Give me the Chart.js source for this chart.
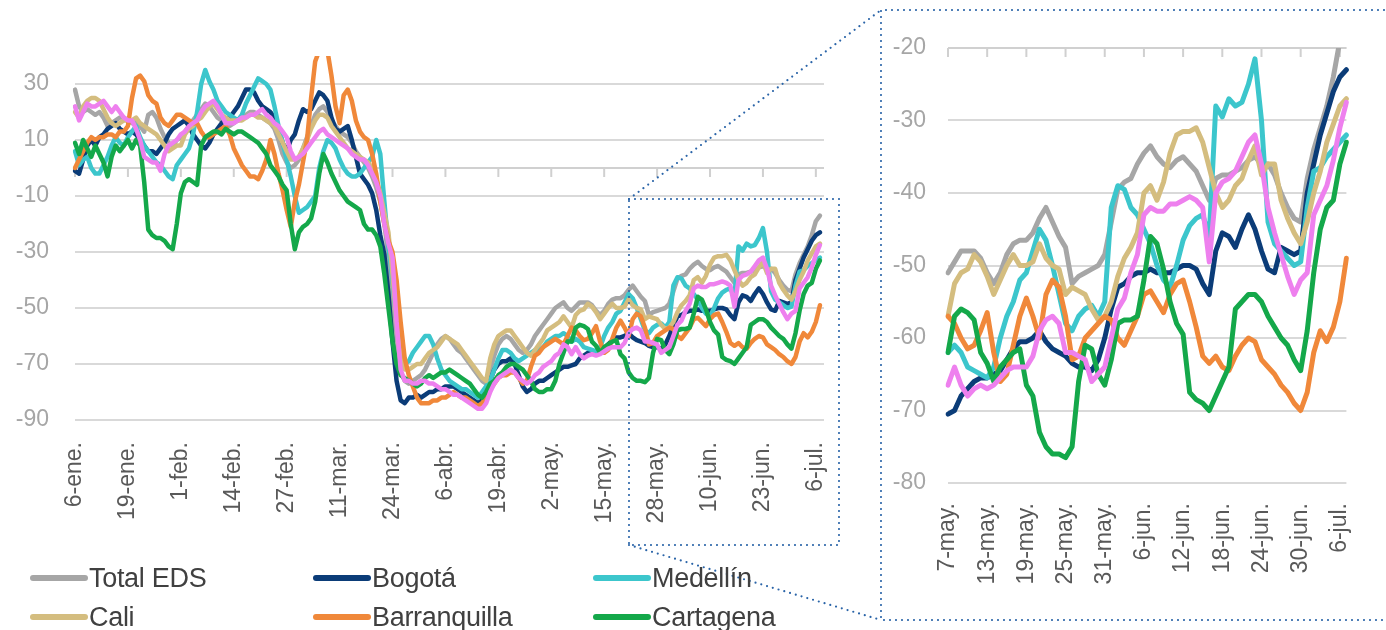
<!DOCTYPE html>
<html>
<head>
<meta charset="utf-8">
<script src="https://cdn.jsdelivr.net/npm/chart.js@4.4.1/dist/chart.umd.min.js"></script>
<style>
  html, body { margin: 0; padding: 0; background: #fff; }
  body { width: 1386px; height: 630px; position: relative; overflow: hidden; font-family: 'Liberation Sans', Arial, sans-serif; }
  #izq { position: absolute; left: 0; top: 0; width: 870px; height: 540px; }
  #der { position: absolute; left: 880px; top: 0; width: 506px; height: 600px; }
  #marcos { position: absolute; left: 0; top: 0; pointer-events: none; }
  .leyenda { position: absolute; display: flex; align-items: center; font-size: 27px; color: #404040; white-space: nowrap; letter-spacing: -0.3px; }
  .leyenda i { display: inline-block; width: 58px; height: 6px; border-radius: 3px; margin-right: 1px; }
</style>
</head>
<body>
<div id="izq"><canvas id="chartIzq"></canvas></div>
<div id="der"><canvas id="chartDer"></canvas></div>
<svg id="marcos" width="1386" height="630"></svg>
<div id="leyenda"></div>

<script>
// dias desde el 6-ene (2020, bisiesto)
const meses = ['ene', 'feb', 'mar', 'abr', 'may', 'jun', 'jul'];
const diasMes = [31, 29, 31, 30, 31, 30, 31];
const inicioZoom = 122; // 7-may

const totalEDS = [28,22,20,21,20,19,20,18,15,16,
  17,18,18,17,16,17,15,13,19,20,18,14,11,9,8,10,11,13,15,17,
  19,21,23,22,20,18,17,16,15,16,17,18,19,20,20,19,18,17,16,14,
  10,5,2,0,1,3,7,11,15,19,21,22,20,17,15,13,12,11,9,6,
  4,2,0,-3,-7,-12,-20,-32,-48,-64,-73,-76,-77,-76,-75,-74,-72,-69,-66,-63,
  -61,-60,-61,-63,-65,-66,-68,-70,-72,-74,-76,-77,-72,-67,-63,-61,-60,-61,-63,-65,
  -66,-65,-63,-60,-58,-56,-54,-52,-50,-49,-48,-50,
  -51,-49.5,-48,-48,-48,-49,-51,-52.5,-51,-48.5,-47,-46.5,-46.5,-45.5,-43.5,-42,-44,-46,-47.5,-52.5,
  -51.5,-51,-50.5,-50,-48.5,-44,-39.5,-38.5,-38,-36,-34.5,-33.5,-35,-36,-36.5,-35.5,-35,-36,-37,-39,
  -41,-38,-37.5,-37.5,-37,-36.5,-35.5,-35,-36,-36,-37.5,-40,-42,-43.5,-44,-38,-34,-31,-28,-24,
  -19,-17];

const bogota = [-1,-2,3,8,10,8,11,12,14,15,
  16,14,13,12,13,12,10,8,6,6,5,7,9,12,14,15,16,17,15,12,
  10,8,7,9,12,14,16,17,18,20,22,25,28,28,27,24,22,21,20,18,
  14,9,6,10,12,17,21,20,21,24,27,26,24,18,14,13,14,15,10,4,
  -2,-4,-6,-9,-15,-24,-31,-45,-62,-76,-83,-84,-82,-82,-81,-82,-81,-80,-80,-79,
  -79,-78,-78,-78,-79,-80,-81,-82,-83,-84,-83,-80,-76,-72,-70,-69,-69,-68,-70,-74,
  -78,-80,-79,-77,-76,-76,-75,-74,-73,-72,-71,-71,
  -70.5,-70,-68,-67,-66,-65.5,-65.5,-65,-64.5,-63,-61.5,-60.5,-60.5,-60,-59,-60.5,-61.5,-62,-62.5,-63.5,
  -64,-64,-64.5,-63,-60,-56,-53,-52.5,-51.5,-51,-51,-50.5,-51,-51,-51,-50.5,-50,-50,-50.5,-52.5,
  -54,-48,-45.5,-46,-47.5,-45,-43,-45,-48,-50.5,-51,-47.5,-48,-48.5,-48,-40,-36,-32,-29,-26,
  -24,-23];

const medellin = [6,1,3,4,0,-2,-2,1,4,8,
  11,9,8,11,13,15,11,8,6,4,2,1,-1,-3,-4,1,3,5,7,12,
  20,30,35,31,28,24,22,20,19,18,17,19,23,26,29,32,31,30,28,22,
  15,9,3,-3,-10,-16,-15,-14,-12,-10,0,6,10,9,7,3,0,-2,-3,-3,
  -2,0,2,4,10,5,-12,-28,-40,-55,-65,-70,-69,-66,-64,-62,-60,-60,-63,-68,
  -72,-74,-76,-77,-78,-79,-79,-80,-81,-82,-80,-78,-76,-72,-68,-65,-65,-66,-68,-69,
  -68,-67,-66,-65,-65,-64,-62,-61,-60,-60,-59,-60,
  -62,-61,-62,-64,-64.5,-65,-65.5,-64,-60,-57,-55,-52,-51,-48,-45,-46.5,-50,-54,-58,-59,
  -57,-56,-55.5,-57,-55,-42,-39,-39.5,-42,-43,-45,-47,-50,-52,-53,-50,-46.5,-44.5,-43.5,-43,
  -46,-28,-29.5,-27,-28,-27.5,-25,-21.5,-30,-44,-47,-48,-49,-50,-49.5,-42,-37,-36.5,-35,-34,
  -33,-32];

const cali = [20,18,22,24,25,25,24,21,18,16,
  15,16,17,17,17,18,16,15,14,13,12,10,8,6,7,8,8,12,14,15,
  17,18,20,22,23,21,19,18,17,17,17,17,18,19,19,18,18,17,16,15,
  12,9,6,3,3,4,7,10,14,17,19,19,18,15,13,11,9,7,6,5,
  4,3,2,0,-4,-9,-16,-23,-38,-55,-68,-72,-72,-71,-70,-70,-68,-66,-65,-64,
  -62,-60,-61,-62,-63,-65,-67,-69,-71,-73,-75,-76,-68,-63,-60,-59,-58,-58,-60,-62,
  -64,-66,-67,-65,-63,-61,-58,-57,-56,-55,-53,-55,
  -57,-52.5,-51,-50.5,-48.5,-49.5,-51.5,-54,-52,-50,-48.5,-50,-50,-49.5,-47,-49,-50,-50.5,-54,-53,
  -53.5,-54,-56,-57.5,-57,-55,-51.5,-49,-47.5,-45.5,-40,-39,-41,-38.5,-34.5,-32,-31.5,-31.5,-31,-33,
  -36.5,-40,-42,-41,-39,-38,-35.5,-33.5,-37.5,-36,-36,-41,-43.5,-45.5,-47,-44,-40,-37,-33,-30.5,
  -28,-27];

const barranquilla = [0,3,6,9,11,10,11,11,12,12,
  11,13,13,15,25,32,33,31,26,24,23,18,16,15,17,19,19,18,17,16,
  16,13,11,11,12,13,14,15,12,7,4,1,-1,-3,-3,-4,-1,3,10,5,
  -2,-8,-15,-21,-12,-6,2,10,25,38,42,43,42,33,22,16,26,28,24,17,
  13,11,10,5,-2,-12,-20,-26,-30,-40,-55,-68,-74,-78,-82,-84,-84,-84,-83,-83,
  -82,-82,-81,-80,-81,-82,-82,-83,-84,-85,-84,-82,-79,-77,-75,-74,-74,-73,-73,-75,
  -77,-76,-71,-67,-66,-64,-63,-62,-61,-62,-63,-60,
  -57,-58,-60,-61.5,-61,-59,-56.5,-62,-66,-65,-61,-57,-54.5,-57,-60,-54,-52,-53,-57,-63,
  -62.5,-60,-59,-58,-57,-57.5,-60,-61,-59,-57,-54,-53.5,-55,-56.5,-54,-52.5,-52,-55,-58.5,-62.5,
  -63.5,-62.5,-64,-64.5,-62.5,-61,-60,-60.5,-63,-64,-65,-66.5,-67.5,-69,-70,-67.5,-62,-59,-60.5,-58.5,
  -55,-49];

const cartagena = [9,5,10,7,4,8,5,2,-3,4,
  8,6,8,10,7,10,8,-5,-22,-24,-25,-25,-26,-28,-29,-20,-9,-5,-4,-5,
  -6,8,11,12,13,13,12,14,13,12,13,13,12,11,10,9,7,5,1,-1,
  -3,-6,-8,-20,-29,-23,-21,-20,-18,-12,-2,5,2,-2,-5,-8,-10,-12,-13,-14,
  -15,-20,-22,-22,-24,-28,-38,-50,-62,-70,-74,-75,-76,-77,-78,-77,-75,-74,-75,-74,
  -73,-73,-72,-73,-74,-75,-76,-77,-79,-81,-82,-80,-77,-76,-74,-73,-71,-70,-70,-71,
  -72,-74,-76,-79,-80,-80,-79,-79,-76,-70,-66,-62,
  -62,-57,-56,-56.5,-57.5,-62,-63.5,-66,-64,-63,-62,-61.5,-66.5,-68,-73,-75,-76,-76,-76.5,-75,
  -66,-61,-61.5,-65,-66.5,-63,-58,-57.5,-57.5,-57,-52,-46,-47,-50.5,-55,-58,-59.5,-67.5,-68.5,-69,
  -70,-68,-66,-64,-56,-55,-54,-54,-55,-57,-58.5,-60,-61,-63,-64.5,-59,-51,-45,-42,-41,
  -36,-33];

// serie rosada sin rotulo en la leyenda
const otra = [22,17,20,23,22,22,23,24,22,20,
  22,20,18,17,17,14,10,4,3,2,2,-1,5,8,9,10,12,13,15,16,
  17,20,22,23,24,22,19,16,16,16,17,18,18,19,19,20,21,19,18,16,
  15,13,11,6,3,4,5,7,9,11,13,14,12,11,10,9,8,7,5,4,
  3,3,1,-2,-5,-10,-20,-27,-32,-55,-72,-76,-76,-77,-77,-76,-76,-77,-77,-78,
  -79,-79,-80,-81,-81,-82,-83,-84,-85,-86,-86,-84,-80,-77,-75,-74,-73,-72,-73,-75,
  -76,-77,-76,-74,-73,-71,-70,-69,-67,-66,-63,-64,
  -66.5,-64,-66.5,-68,-67,-66.5,-67,-66.5,-65.5,-64.5,-64,-64,-64,-62.5,-59,-57.5,-57,-58,-62,-62,
  -62.5,-63,-66,-65,-64,-60,-56,-54.5,-51,-48.5,-43,-42,-42.5,-42.5,-41.5,-41.5,-41,-40.5,-41,-42,
  -49.5,-40,-38.5,-38,-37,-35,-33,-32,-36,-42,-45.5,-48.5,-51.5,-54,-52,-51,-43,-41,-39,-35.5,
  -31,-27.5];

const ticksIzq = [-90, -70, -50, -30, -10, 10, 30];

// etiquetas diarias 6-ene .. 8-jul
let fechas = [];
let m = 0, dia = 6;
for (let i = 0; i < 185; i++) {
  fechas.push(dia + '-' + meses[m] + '.');
  dia++;
  if (dia > diasMes[m]) { dia = 1; m++; }
}

const series = [
  { nombre: 'Total EDS', datos: totalEDS, color: '#a6a6a6', ley: true },
  { nombre: 'Bogotá', datos: bogota, color: '#0b3c78', ley: true },
  { nombre: 'Medellín', datos: medellin, color: '#3cc6cc', ley: true },
  { nombre: 'Cali', datos: cali, color: '#d4bd7f', ley: true },
  { nombre: 'Barranquilla', datos: barranquilla, color: '#f0883a', ley: true },
  { nombre: 'Cartagena', datos: cartagena, color: '#14a84a', ley: true },
  { nombre: 'Otra', datos: otra, color: '#ee80ee', ley: false }
];

Chart.defaults.font.family = "'Liberation Sans', Arial, sans-serif";

// eje horizontal que cruza en un valor, con sus marcas
const ejeCruce = {
  id: 'ejeCruce',
  beforeDatasetsDraw(chart, args, opts) {
    const ctx = chart.ctx;
    const area = chart.chartArea;
    const py = chart.scales.y.getPixelForValue(opts.valor);
    ctx.save();
    ctx.strokeStyle = '#d0d0d0';
    ctx.lineWidth = 2;
    ctx.beginPath();
    ctx.moveTo(area.left, py);
    ctx.lineTo(area.right, py);
    for (let i = 0; i < chart.data.labels.length - 1; i += opts.paso) {
      const px = chart.scales.x.getPixelForValue(i);
      ctx.moveTo(px, py);
      ctx.lineTo(px, py + 9);
    }
    ctx.stroke();
    ctx.restore();
  }
};

function armarDatasets(desde, grosor) {
  return series.map((s, i) => ({
    label: s.nombre,
    data: s.datos.slice(desde),
    borderColor: s.color,
    backgroundColor: s.color,
    borderWidth: grosor,
    pointRadius: 0,
    tension: 0,
    borderJoinStyle: 'round',
    borderCapStyle: 'round',
    order: series.length - i
  }));
}

function opciones(cfg) {
  return {
    responsive: false,
    animation: false,
    events: [],
    layout: { padding: cfg.padding },
    plugins: { legend: { display: false }, tooltip: { enabled: false }, ejeCruce: cfg.eje },
    scales: {
      x: {
        type: 'category',
        offset: false,
        grid: { display: false },
        border: { display: false },
        afterFit: (s) => { s.height = cfg.altoX; },
        ticks: {
          autoSkip: false,
          maxRotation: 90,
          minRotation: 90,
          padding: cfg.padX,
          color: '#595959',
          font: { size: 23 },
          callback: function (v, i) { return i % cfg.paso === 0 ? this.getLabelForValue(v) : ''; }
        }
      },
      y: {
        min: cfg.min,
        max: cfg.max,
        afterBuildTicks: cfg.ticks ? (s) => { s.ticks = cfg.ticks.map(v => ({ value: v })); } : undefined,
        afterFit: (s) => { s.width = cfg.anchoY; },
        grid: { color: '#d9d9d9', lineWidth: 2, drawTicks: false },
        border: { display: false },
        ticks: { stepSize: 10, color: '#a6a6a6', font: { size: 23 }, padding: cfg.padY }
      }
    }
  };
}

const cIzq = document.getElementById('chartIzq');
cIzq.width = 870; cIzq.height = 540;
new Chart(cIzq, {
  type: 'line',
  data: { labels: fechas, datasets: armarDatasets(0, 4.5) },
  options: opciones({
    padding: { left: 0, right: 46, top: 56, bottom: 0 },
    altoX: 120, padX: 14, paso: 13, anchoY: 75, padY: 26,
    min: -90, max: 40, ticks: ticksIzq, eje: { valor: 0, paso: 13 }
  }),
  plugins: [ejeCruce]
});

const cDer = document.getElementById('chartDer');
cDer.width = 506; cDer.height = 600;
new Chart(cDer, {
  type: 'line',
  data: { labels: fechas.slice(inicioZoom, 184), datasets: armarDatasets(inicioZoom, 5) },
  options: opciones({
    padding: { left: 0, right: 24, top: 48, bottom: 0 },
    altoX: 117, padX: 12, paso: 6, anchoY: 68, padY: 22,
    min: -80, max: -20, ticks: null, eje: { valor: -20, paso: 6 }
  }),
  plugins: [ejeCruce]
});

// leyenda (2 filas x 3 columnas)
const colX = [30, 313, 593];
const filaY = [578, 617];
const ley = document.getElementById('leyenda');
series.filter(s => s.ley).forEach((s, i) => {
  const d = document.createElement('div');
  d.className = 'leyenda';
  d.style.left = colX[i % 3] + 'px';
  d.style.top = (filaY[Math.floor(i / 3)] - 16) + 'px';
  d.style.height = '32px';
  d.innerHTML = '<i style="background:' + s.color + '"></i>' + s.nombre;
  ley.appendChild(d);
});

// recuadro punteado y lineas hacia el panel ampliado
const svg = document.getElementById('marcos');
const punteado = 'stroke="#2a64a8" stroke-width="2.2" stroke-linecap="round" stroke-dasharray="0 6" fill="none"';
svg.innerHTML =
  '<rect x="629" y="199" width="210" height="346" ' + punteado + '/>' +
  '<line x1="629" y1="199" x2="881" y2="10" ' + punteado + '/>' +
  '<line x1="629" y1="545" x2="881" y2="620" ' + punteado + '/>' +
  '<polyline points="1390,10 881,10 881,620 1390,620" ' + punteado + '/>';
</script>
</body>
</html>
